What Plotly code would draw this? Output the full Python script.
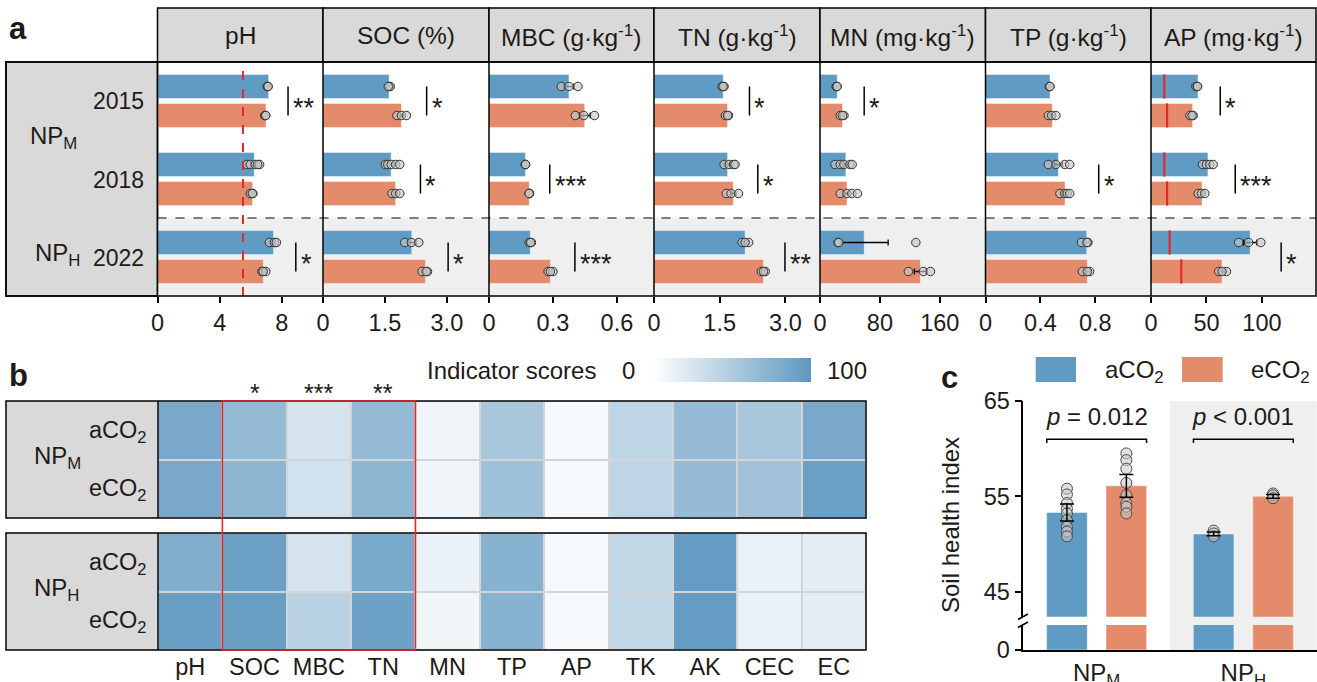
import plotly.graph_objects as go

W, H = 1317, 682
def px(x): return x / W
def py(y): return 1 - y / H

FONT = "Liberation Sans, Arial, sans-serif"
TXT = "#1f1a17"
BLUE = "#5f9bc2"
ORANGE = "#e38b6b"
FS = 23.5

# ---------------- Panel a data ----------------
years = ["2015", "2018", "2022"]
a_titles = ["pH", "SOC (%)", "MBC (g·kg<sup>-1</sup>)", "TN (g·kg<sup>-1</sup>)",
            "MN (mg·kg<sup>-1</sup>)", "TP (g·kg<sup>-1</sup>)", "AP (mg·kg<sup>-1</sup>)"]

ph_a = [7.15, 6.23, 7.47];   ph_e = [6.98, 6.12, 6.81]
soc_a = [1.60, 1.65, 2.15];  soc_e = [1.90, 1.76, 2.48]
mbc_a = [0.375, 0.171, 0.194]; mbc_e = [0.449, 0.189, 0.288]
tn_a = [1.58, 1.68, 2.08];   tn_e = [1.68, 1.81, 2.50]
mn_a = [23, 34.5, 59];       mn_e = [30, 36, 134]
tp_a = [0.47, 0.531, 0.738]; tp_e = [0.487, 0.58, 0.742]
ap_a = [42.4, 51.3, 89.4];   ap_e = [37.5, 46, 64]

ph_se_a = [0.05, 0.15, 0.12];   ph_se_e = [0.04, 0.05, 0.08]
soc_se_a = [0.02, 0.06, 0.10];  soc_se_e = [0.06, 0.04, 0.04]
mbc_se_a = [0.023, 0.004, 0.004]; mbc_se_e = [0.026, 0.004, 0.007]
tn_se_a = [0.02, 0.05, 0.05];   tn_se_e = [0.03, 0.06, 0.03]
mn_se_a = [1, 4, 32];           mn_se_e = [2, 4, 8]
tp_se_a = [0.01, 0.03, 0.02];   tp_se_e = [0.02, 0.02, 0.02]
ap_se_a = [0.8, 2, 6];          ap_se_e = [1.5, 1.5, 2.5]

ph_pts_a = [[7.05, 7.1, 7.12], [5.75, 5.97, 6.29, 6.57, 6.45], [7.2, 7.52, 7.65]]
ph_pts_e = [[6.9, 6.95, 6.97], [5.97, 6.14, 6.1], [6.72, 6.97, 6.8]]
soc_pts_a = [[1.60, 1.63, 1.58], [1.51, 1.57, 1.65, 1.76, 1.86], [1.98, 2.14, 2.32]]
soc_pts_e = [[1.79, 1.90, 2.02], [1.67, 1.76, 1.86], [2.40, 2.53, 2.50]]
mbc_pts_a = [[0.339, 0.375, 0.417], [0.171, 0.170, 0.172], [0.188, 0.199, 0.195]]
mbc_pts_e = [[0.405, 0.445, 0.495], [0.189, 0.190, 0.188], [0.277, 0.300, 0.288]]
tn_pts_a = [[1.55, 1.60, 1.58], [1.60, 1.72, 1.82, 1.85], [2.01, 2.16, 2.08]]
tn_pts_e = [[1.63, 1.70, 1.68], [1.65, 1.76, 1.93], [2.45, 2.54, 2.50]]
mn_pts_a = [[21.5, 22, 23], [20, 27, 32, 40, 43], [24, 25, 128]]
mn_pts_e = [[27, 32, 30], [27, 36, 42.5, 50], [118, 138, 147.5]]
tp_pts_a = [[0.465, 0.468, 0.47], [0.458, 0.513, 0.578, 0.614], [0.699, 0.747, 0.74]]
tp_pts_e = [[0.458, 0.482, 0.513], [0.542, 0.578, 0.595, 0.614], [0.706, 0.759, 0.742]]
ap_pts_a = [[40.4, 41.6, 42], [46.4, 50, 53, 56], [79, 88, 99]]
ap_pts_e = [[35, 38, 37], [42.5, 45.5, 48.5], [61, 68, 64]]

ph_threshold = 5.5
ap_thr_a = [12, 12, 16.8]
ap_thr_e = [14.5, 14.5, 27.3]

a_ranges = [[0, 10.65], [0, 4.02], [0, 0.774], [0, 3.79], [0, 221], [0, 1.206], [0, 148.7]]
a_tickvals = [[0, 4, 8], [0, 1.5, 3.0], [0, 0.3, 0.6], [0, 1.5, 3.0], [0, 80, 160], [0, 0.4, 0.8], [0, 50, 100]]
a_ticktext = [["0", "4", "8"], ["0", "1.5", "3.0"], ["0", "0.3", "0.6"], ["0", "1.5", "3.0"],
              ["0", "80", "160"], ["0", "0.4", "0.8"], ["0", "50", "100"]]

# significance: (year index, bracket x, label)
sig_marks = [
    [(0, 8.4, "**"), (2, 8.9, "*")],
    [(0, 2.51, "*"), (1, 2.36, "*"), (2, 3.03, "*")],
    [(1, 0.285, "***"), (2, 0.403, "***")],
    [(0, 2.18, "*"), (1, 2.37, "*"), (2, 2.99, "**")],
    [(0, 59, "*")],
    [(1, 0.825, "*")],
    [(0, 62.4, "*"), (1, 75.9, "***"), (2, 117.3, "*")],
]

# ---------------- Panel b data ----------------
hm_cols = ["pH", "SOC", "MBC", "TN", "MN", "TP", "AP", "TK", "AK", "CEC", "EC"]
hm_rows = ["aCO<sub>2</sub>", "eCO<sub>2</sub>"]
npm_a = [84, 67, 27, 67, 10, 54, 5, 41, 67, 54, 84]
npm_e = [84, 72, 29, 72, 10, 60, 5, 41, 67, 59, 92]
nph_a = [79, 92, 27, 83, 13, 75, 5, 37, 96, 14, 17]
nph_e = [93, 93, 44, 91, 9, 75, 5, 37, 96, 14, 17]
hm_sig = [(1, "*"), (2, "***"), (3, "**")]

# ---------------- Panel c data ----------------
shi_groups = ["NP<sub>M</sub>", "NP<sub>H</sub>"]
shi_a = [53.3, 51.05]
shi_e = [56.1, 55.0]
shi_se_a = [0.9, 0.2]
shi_se_e = [1.2, 0.2]
shi_pts_a = [[55.8, 55.2, 54.3, 53.7, 53.2, 52.5, 51.8, 51.3, 50.8], [51.4, 51.1, 50.8]]
shi_pts_e = [[59.5, 58.8, 57.9, 56.4, 55.1, 54.3, 53.9, 53.2], [55.3, 55.1, 54.8]]
shi_p = ["<i>p</i> = 0.012", "<i>p</i> &lt; 0.001"]

# ======================================================
fig = go.Figure()
shapes = []
ann = []
layout = {}

def text(x, y, t, size=FS, xanchor="center", yanchor="middle", xref="paper", yref="paper", **kw):
    ann.append(dict(x=x, y=y, xref=xref, yref=yref, text=t, showarrow=False,
                    xanchor=xanchor, yanchor=yanchor,
                    font=dict(family=FONT, size=size, color=TXT), **kw))

def rect(x0, y0, x1, y1, fill=None, line="black", lw=1.5, layer="below"):
    shapes.append(dict(type="rect", xref="paper", yref="paper",
                       x0=px(x0), x1=px(x1), y0=py(y1), y1=py(y0),
                       fillcolor=fill if fill else "rgba(0,0,0,0)",
                       line=dict(color=line, width=lw if line else 0), layer=layer))

def pline(x0, y0, x1, y1, color="black", lw=1.5, dash=None, layer="above"):
    shapes.append(dict(type="line", xref="paper", yref="paper",
                       x0=px(x0), x1=px(x1), y0=py(y0), y1=py(y1),
                       line=dict(color=color, width=lw, dash=dash), layer=layer))

pt_marker = dict(size=8.5, color="rgba(200,200,200,0.65)", line=dict(color="#333333", width=1))

# ---------------- Panel a ----------------
A_TOP, A_BOT, H_TOP = 62, 296, 8
bounds = [157.5, 323, 489, 654, 820, 985.5, 1151, 1316]
bars_a = [ph_a, soc_a, mbc_a, tn_a, mn_a, tp_a, ap_a]
bars_e = [ph_e, soc_e, mbc_e, tn_e, mn_e, tp_e, ap_e]
ses_a = [ph_se_a, soc_se_a, mbc_se_a, tn_se_a, mn_se_a, tp_se_a, ap_se_a]
ses_e = [ph_se_e, soc_se_e, mbc_se_e, tn_se_e, mn_se_e, tp_se_e, ap_se_e]
pts_a = [ph_pts_a, soc_pts_a, mbc_pts_a, tn_pts_a, mn_pts_a, tp_pts_a, ap_pts_a]
pts_e = [ph_pts_e, soc_pts_e, mbc_pts_e, tn_pts_e, mn_pts_e, tp_pts_e, ap_pts_e]

DY = 0.186
centers = [k + 0.5 for k in range(len(years))]

# backgrounds
rect(6, A_TOP, bounds[0], A_BOT, fill="#d9d9d9")
rect(bounds[0], 218, bounds[-1], A_BOT, fill="#efefef", line=None)

for i in range(7):
    n = i + 1
    xa = "xaxis" if n == 1 else f"xaxis{n}"
    ya = "yaxis" if n == 1 else f"yaxis{n}"
    xr = "x" if n == 1 else f"x{n}"
    yr = "y" if n == 1 else f"y{n}"
    layout[xa] = dict(domain=[px(bounds[i]), px(bounds[i + 1])], range=a_ranges[i], anchor=yr,
                      tickvals=a_tickvals[i], ticktext=a_ticktext[i], ticks="outside", ticklen=6,
                      tickwidth=1.5, tickcolor="black", showgrid=False, zeroline=False, showline=False,
                      tickfont=dict(family=FONT, size=FS, color=TXT), fixedrange=True)
    layout[ya] = dict(domain=[py(A_BOT), py(A_TOP)], range=[3, 0], anchor=xr, visible=False,
                      fixedrange=True)
    ypos_a = [c - DY for c in centers]
    ypos_e = [c + DY for c in centers]
    for vals, ses, pos, col in [(bars_a[i], ses_a[i], ypos_a, BLUE), (bars_e[i], ses_e[i], ypos_e, ORANGE)]:
        fig.add_trace(go.Bar(x=vals, y=pos, orientation="h", width=0.31, xaxis=xr, yaxis=yr,
                             marker=dict(color=col, line=dict(color="rgba(255,255,255,0.45)", width=1)),
                             error_x=dict(type="data", array=ses, color="black", thickness=1.3, width=3),
                             showlegend=False, hoverinfo="x"))
    for pts, pos in [(pts_a[i], ypos_a), (pts_e[i], ypos_e)]:
        xs, ys = [], []
        for k, grp in enumerate(pts):
            xs += grp
            ys += [pos[k]] * len(grp)
        fig.add_trace(go.Scatter(x=xs, y=ys, mode="markers", marker=pt_marker, xaxis=xr, yaxis=yr,
                                 showlegend=False, hoverinfo="x"))
    # header
    rect(bounds[i], H_TOP, bounds[i + 1], A_TOP, fill="#d9d9d9")
    text(px((bounds[i] + bounds[i + 1]) / 2), py(36), a_titles[i], size=24.5)
    # significance
    for (k, sx, lab) in sig_marks[i]:
        shapes.append(dict(type="line", xref=xr, yref=yr, x0=sx, x1=sx,
                           y0=centers[k] - DY, y1=centers[k] + DY, line=dict(color="black", width=1.5)))
        ann.append(dict(x=sx, y=centers[k], xref=xr, yref=yr, text=lab, showarrow=False,
                        xanchor="left", yanchor="middle", xshift=3, yshift=-7,
                        font=dict(family=FONT, size=27, color=TXT)))
    if i == 0:
        shapes.append(dict(type="line", xref=xr, yref="y domain", x0=ph_threshold, x1=ph_threshold,
                           y0=0, y1=1, line=dict(color="#e8262a", width=2, dash="dash")))
    if i == 6:
        for thr, pos in [(ap_thr_a, ypos_a), (ap_thr_e, ypos_e)]:
            for k, t in enumerate(thr):
                shapes.append(dict(type="line", xref=xr, yref=yr, x0=t, x1=t,
                                   y0=pos[k] - 0.155, y1=pos[k] + 0.155,
                                   line=dict(color="#e8262a", width=2.2)))

pline(bounds[0], 218, bounds[-1], 218, color="#555555", lw=1.3, dash="dash")
rect(6, A_TOP, bounds[-1], A_BOT, fill=None, layer="above")
for b in bounds[1:-1]:
    pline(b, A_TOP, b, A_BOT)
pline(bounds[0], A_TOP, bounds[0], A_BOT)

for k, yv in enumerate(years):
    text(px(146), py(101.5 + 78 * k), yv, size=23, xanchor="right")
text(px(28), py(137), "NP<sub>M</sub>", size=24, xanchor="left")
text(px(33), py(254), "NP<sub>H</sub>", size=24, xanchor="left")
text(px(7), py(29), "<b>a</b>", size=31, xanchor="left")

# ---------------- Panel b ----------------
HX0, HX1 = 158, 866
boxes = [(401, 518, npm_a, npm_e, "NP<sub>M</sub>"), (533, 650, nph_a, nph_e, "NP<sub>H</sub>")]
for j, (y0, y1, ra, re, lab) in enumerate(boxes):
    n = 8 + j
    xa, ya, xr, yr = f"xaxis{n}", f"yaxis{n}", f"x{n}", f"y{n}"
    rect(6, y0, HX0, y1, fill="#d9d9d9", line=None)
    rect(HX0, y0, HX1, y1, fill="#d4d4d4", line=None)
    fig.add_trace(go.Heatmap(z=[ra, re], x=list(range(len(hm_cols))), y=[0, 1], xaxis=xr, yaxis=yr,
                             coloraxis="coloraxis", xgap=2, ygap=2, hoverinfo="z"))
    layout[xa] = dict(domain=[px(HX0), px(HX1)], range=[-0.5, len(hm_cols) - 0.5], anchor=yr,
                      showgrid=False, zeroline=False, showline=False, ticks="",
                      tickvals=list(range(len(hm_cols))), ticktext=hm_cols,
                      showticklabels=(j == 1), tickfont=dict(family=FONT, size=FS, color=TXT),
                      fixedrange=True)
    layout[ya] = dict(domain=[py(y1), py(y0)], range=[1.5, -0.5], anchor=xr, visible=False,
                      fixedrange=True)
    rect(6, y0, HX1, y1, fill=None, layer="above")
    pline(HX0, y0, HX0, y1)
    rowc = [(y0 + (y1 - y0) * 0.25), (y0 + (y1 - y0) * 0.75)]
    text(px(148), py(rowc[0] + 1), hm_rows[0], xanchor="right")
    text(px(148), py(rowc[1] + 1), hm_rows[1], xanchor="right")
    text(px(32), py((y0 + y1) / 2 - 2), lab, size=24, xanchor="left")

# red box around SOC..TN
shapes.append(dict(type="rect", xref="paper", yref="paper",
                   x0=px(HX0 + (HX1 - HX0) / 11 * 1), x1=px(HX0 + (HX1 - HX0) / 11 * 4),
                   y0=py(650), y1=py(401), line=dict(color="#e8262a", width=1.6), layer="above"))
for (ci, lab) in hm_sig:
    ann.append(dict(x=ci, y=py(387), xref="x8", yref="paper", text=lab, showarrow=False,
                    xanchor="center", yanchor="middle", yshift=-6,
                    font=dict(family=FONT, size=25, color=TXT)))

layout["coloraxis"] = dict(colorscale=[[0, "#ffffff"], [1, "#5f98c0"]], cmin=0, cmax=100,
                           colorbar=dict(orientation="h", x=px(732), xanchor="center", y=py(370),
                                         yanchor="middle", len=158, lenmode="pixels", thickness=24,
                                         thicknessmode="pixels", showticklabels=False, ticks="",
                                         outlinewidth=0, xpad=0, ypad=0))
text(px(598), py(370), "Indicator scores", size=24, xanchor="right")
text(px(628), py(370), "0", size=24)
text(px(847), py(370), "100", size=24)
text(px(7), py(376), "<b>b</b>", size=31, xanchor="left")

# ---------------- Panel c ----------------
CX0, CX1 = 1023.3, 1316.7
rect(1170, 401, CX1, 650, fill="#efefef", line=None)
layout["xaxis10"] = dict(domain=[px(CX0), px(CX1)], range=[-0.5, 1.5], anchor="y11",
                         tickvals=list(range(len(shi_groups))), ticktext=shi_groups, ticks="",
                         showline=True, linecolor="black", linewidth=1.5, showgrid=False, zeroline=False,
                         tickfont=dict(family=FONT, size=24, color=TXT), fixedrange=True)
layout["yaxis10"] = dict(domain=[py(616.7), py(401)], range=[42.37, 65], anchor="x10",
                         tickvals=[45, 55, 65], ticks="outside", ticklen=7, tickwidth=1.5, tickcolor="black",
                         showline=True, linecolor="black", linewidth=1.5, showgrid=False, zeroline=False,
                         tickfont=dict(family=FONT, size=FS, color=TXT), fixedrange=True)
layout["yaxis11"] = dict(domain=[py(650), py(625)], range=[0, 5], anchor="x10",
                         tickvals=[0], ticks="outside", ticklen=7, tickwidth=1.5, tickcolor="black",
                         showline=True, linecolor="black", linewidth=1.5, showgrid=False, zeroline=False,
                         tickfont=dict(family=FONT, size=FS, color=TXT), fixedrange=True)
OFF, BW = 0.2025, 0.277
gx = list(range(len(shi_groups)))
for vals, ses, pts, col, sgn in [(shi_a, shi_se_a, shi_pts_a, BLUE, -1), (shi_e, shi_se_e, shi_pts_e, ORANGE, 1)]:
    xpos = [g + sgn * OFF for g in gx]
    fig.add_trace(go.Bar(x=xpos, y=vals, width=BW, xaxis="x10", yaxis="y10",
                         marker=dict(color=col, line=dict(color="rgba(255,255,255,0.45)", width=1)),
                         showlegend=False, hoverinfo="y"))
    fig.add_trace(go.Bar(x=xpos, y=vals, width=BW, xaxis="x10", yaxis="y11",
                         marker=dict(color=col, line=dict(color="rgba(255,255,255,0.45)", width=1)),
                         showlegend=False, hoverinfo="skip"))
    xs, ys = [], []
    for k, grp in enumerate(pts):
        xs += [xpos[k]] * len(grp)
        ys += grp
    fig.add_trace(go.Scatter(x=xs, y=ys, mode="markers", xaxis="x10", yaxis="y10",
                             marker=dict(size=11, color="rgba(200,200,200,0.55)",
                                         line=dict(color="#4a4a4a", width=1)),
                             showlegend=False, hoverinfo="y"))
    fig.add_trace(go.Scatter(x=xpos, y=vals, mode="markers", xaxis="x10", yaxis="y10",
                             marker=dict(size=1, color="rgba(0,0,0,0)"),
                             error_y=dict(type="data", array=ses, color="black", thickness=1.5, width=7),
                             showlegend=False, hoverinfo="skip"))

for g, ptxt in zip(gx, shi_p):
    shapes.append(dict(type="path", xref="x10", yref="y10",
                       path=f"M {g-0.34},60.6 L {g-0.34},61.0 L {g+0.34},61.0 L {g+0.34},60.6",
                       line=dict(color="black", width=1.5)))
    ann.append(dict(x=g, y=63.4, xref="x10", yref="y10", text=ptxt, showarrow=False,
                    xanchor="center", yanchor="middle", font=dict(family=FONT, size=24, color=TXT)))

# axis break marks
pline(1018, 619.5, 1028, 614, lw=1.5)
pline(1018, 627.5, 1028, 622, lw=1.5)

# legend
rect(1035.7, 357, 1076, 382, fill=BLUE, line=None, layer="above")
rect(1182, 357, 1222.7, 382, fill=ORANGE, line=None, layer="above")
text(px(1103), py(371), "aCO<sub>2</sub>", size=24, xanchor="left")
text(px(1249), py(371), "eCO<sub>2</sub>", size=24, xanchor="left")
text(px(950), py(525), "Soil health index", size=24, textangle=-90)
text(px(939), py(378), "<b>c</b>", size=31, xanchor="left")

fig.update_layout(
    width=W, height=H, autosize=False,
    margin=dict(l=0, r=0, t=0, b=0, pad=0, autoexpand=False),
    paper_bgcolor="white", plot_bgcolor="rgba(0,0,0,0)",
    font=dict(family=FONT, size=FS, color=TXT),
    barmode="overlay", showlegend=False,
    shapes=shapes, annotations=ann,
    **layout,
)

fig.write_html("out.html", config={"displayModeBar": False},
               post_script="document.body.style.margin='0';document.body.style.overflow='hidden';")
